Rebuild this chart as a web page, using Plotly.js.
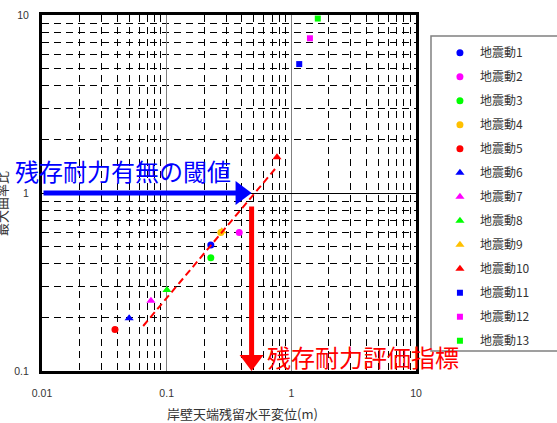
<!DOCTYPE html>
<html>
<head>
<meta charset="utf-8">
<script src="https://cdn.plot.ly/plotly-3.0.1.min.js"></script>
<style>
  html, body { margin: 0; padding: 0; background: #ffffff; }
  #chart { width: 557px; height: 423px; }
</style>
</head>
<body>
<div id="chart"></div>
<script>
// Ground motion cases: residual horizontal displacement of quay wall crest (m)
// versus maximum curvature ratio.
const motionNames = ['地震動1', '地震動2', '地震動3', '地震動4', '地震動5', '地震動6', '地震動7',
                     '地震動8', '地震動9', '地震動10', '地震動11', '地震動12', '地震動13'];
const residualDisp = [0.226, 0.382, 0.226, 0.272, 0.0385, 0.050, 0.0748,
                      0.1005, 0.277, 0.767, 1.157, 1.41, 1.63];
const curvatureRatio = [0.51, 0.60, 0.433, 0.60, 0.171, 0.198, 0.248,
                        0.285, 0.61, 1.59, 5.3, 7.4, 9.55];

// Approximate trend line through the results
const trendX = [0.0648, 0.75];
const trendY = [0.179, 1.38];

// Threshold of curvature ratio and the resulting evaluation index
const thresholdY = 1;
const indexX = 0.48;

const xTickVals = [0.01, 0.1, 1, 10];
const xTickText = ['0.01', '0.1', '1', '10'];
const yTickVals = [0.1, 1, 10];
const yTickText = ['0.1', '1', '10'];

const xTitle = '岸壁天端残留水平変位(m)';
const yTitle = '最大曲率比';
const thresholdLabel = '残存耐力有無の閾値';
const indexLabel = '残存耐力評価指標';

// Marker styling per case
const markerColors = ['#0000ff', '#ff00ff', '#00ff00', '#ffc000', '#ff0000',
                      '#0000ff', '#ff00ff', '#00ff00', '#ffc000', '#ff0000',
                      '#0000ff', '#ff00ff', '#00ff00'];
const markerSymbols = ['circle', 'circle', 'circle', 'circle', 'circle',
                       'triangle-up', 'triangle-up', 'triangle-up', 'triangle-up', 'triangle-up',
                       'square', 'square', 'square'];
const markerSizes = { 'circle': 7, 'triangle-up': 8, 'square': 6 };

const CJK = '"Noto Sans CJK JP", sans-serif';
const LATIN = '"Liberation Sans", Arial, sans-serif';

const traces = motionNames.map((name, i) => ({
  type: 'scatter',
  mode: 'markers',
  name: name,
  legendgroup: 'g' + i,
  x: [residualDisp[i]],
  y: [curvatureRatio[i]],
  marker: {
    color: markerColors[i],
    symbol: markerSymbols[i],
    size: markerSizes[markerSymbols[i]],
    line: { width: 0 }
  },
  hoverinfo: 'x+y+name'
}));

traces.push({
  type: 'scatter',
  mode: 'lines',
  x: trendX,
  y: trendY,
  showlegend: false,
  line: { color: '#ff0000', width: 2, dash: '7px,4px' },
  hoverinfo: 'skip'
});

const lg = Math.log10;

const layout = {
  width: 557,
  height: 423,
  margin: { l: 42, r: 141, t: 15, b: 52, pad: 0 },
  paper_bgcolor: '#ffffff',
  plot_bgcolor: '#ffffff',
  font: { family: LATIN, color: '#333333', size: 10 },
  showlegend: true,
  legend: {
    x: 1.064, xanchor: 'left',
    y: 0.935, yanchor: 'top',
    bgcolor: 'rgba(0,0,0,0)',
    borderwidth: 0,
    tracegroupgap: 5,
    font: { family: CJK, size: 12, color: '#333333' }
  },
  xaxis: {
    type: 'log',
    range: [-2, 1],
    tickvals: xTickVals,
    ticktext: xTickText,
    ticks: '',
    ticklabelstandoff: 10,
    showline: true, mirror: true, linewidth: 3, linecolor: '#000000',
    showgrid: true, gridcolor: '#808080', gridwidth: 1.5,
    zeroline: false,
    tickfont: { family: LATIN, size: 10.5, color: '#333333' },
    minor: { showgrid: true, dtick: 'D1', gridcolor: '#000000', gridwidth: 1, griddash: '7px,5px', ticks: '' },
    fixedrange: true
  },
  yaxis: {
    type: 'log',
    range: [-1, 1],
    tickvals: yTickVals,
    ticktext: yTickText,
    ticks: '',
    ticklabelstandoff: 8,
    showline: true, mirror: true, linewidth: 3, linecolor: '#000000',
    showgrid: true, gridcolor: '#000000', gridwidth: 1,
    zeroline: false,
    tickfont: { family: LATIN, size: 10.5, color: '#333333' },
    minor: { showgrid: true, dtick: 'D1', gridcolor: '#000000', gridwidth: 1, griddash: '7px,5px', ticks: '' },
    fixedrange: true
  },
  shapes: [
    // legend frame
    { type: 'rect', xref: 'paper', yref: 'paper', x0: 1.0401, x1: 1.40, y0: 0.0562, y1: 0.941,
      line: { color: '#808080', width: 1.5 }, fillcolor: 'rgba(0,0,0,0)', layer: 'below' },
    // arrow heads
    { type: 'path', xref: 'x', yref: 'y', xsizemode: 'pixel', ysizemode: 'pixel',
      xanchor: indexX, yanchor: thresholdY,
      path: 'M0,0 L-16,12 L-16,-12 Z', fillcolor: '#0000ff', line: { width: 0 } },
    { type: 'path', xref: 'x', yref: 'y', xsizemode: 'pixel', ysizemode: 'pixel',
      xanchor: indexX, yanchor: 0.1,
      path: 'M0,0 L-12,16 L12,16 Z', fillcolor: '#ff0000', line: { width: 0 } }
  ],
  annotations: [
    // horizontal threshold arrow shaft
    { xref: 'x', yref: 'y', axref: 'x', ayref: 'y',
      x: lg(indexX), y: lg(thresholdY), ax: -2, ay: lg(thresholdY),
      text: '', showarrow: true, arrowhead: 0, arrowwidth: 5, arrowcolor: '#0000ff', standoff: 13 },
    // vertical index arrow shaft
    { xref: 'x', yref: 'y', axref: 'x', ayref: 'y',
      x: lg(indexX), y: -1, ax: lg(indexX), ay: lg(thresholdY),
      text: '', showarrow: true, arrowhead: 0, arrowwidth: 5, arrowcolor: '#ff0000',
      standoff: 13, startstandoff: 12 },
    { xref: 'paper', yref: 'paper', x: -0.0749, y: 0.5618, xanchor: 'left', yanchor: 'middle',
      text: thresholdLabel, showarrow: false, borderpad: 0,
      font: { family: CJK, size: 24, color: '#0000ff' } },
    { xref: 'paper', yref: 'paper', x: 0.600, y: 0.040, xanchor: 'left', yanchor: 'middle',
      text: indexLabel, showarrow: false, borderpad: 0,
      font: { family: CJK, size: 24, color: '#ff0000' } },
    { xref: 'paper', yref: 'paper', x: 0.537, y: -0.119, xanchor: 'center', yanchor: 'middle',
      text: xTitle, showarrow: false, borderpad: 0,
      font: { family: CJK, size: 13, color: '#333333' } },
    { xref: 'paper', yref: 'paper', x: -0.1096, y: 0.469, xanchor: 'center', yanchor: 'middle',
      text: yTitle, textangle: -90, showarrow: false, borderpad: 0,
      font: { family: CJK, size: 13, color: '#333333' } }
  ]
};

Plotly.newPlot('chart', traces, layout, { displayModeBar: false, staticPlot: true });
</script>
</body>
</html>
